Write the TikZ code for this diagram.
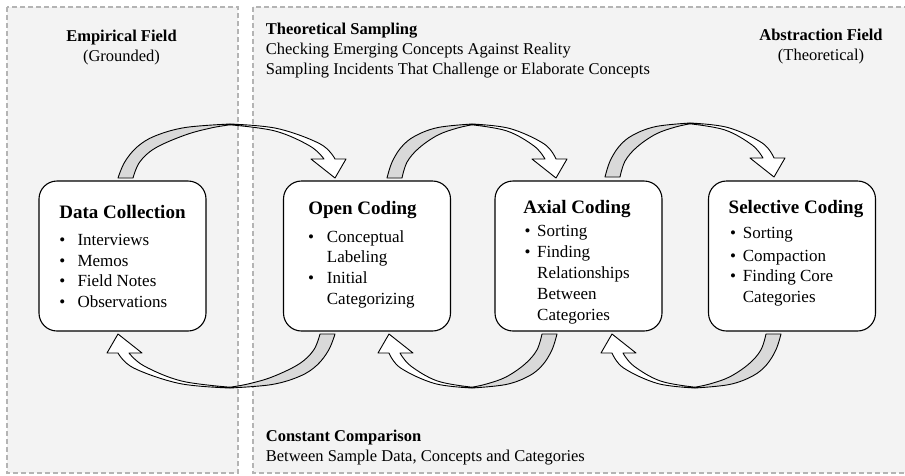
\documentclass[tikz,border=0pt]{standalone}
\usepackage{fontspec}
\setmainfont{Liberation Serif}
\definecolor{panelfill}{HTML}{F3F3F3}
\definecolor{dashc}{HTML}{B4B4B4}
\definecolor{ribbonc}{HTML}{D9D9D9}
\newcommand\ribbonarrow[5]{%
 \begin{scope}[shift={(#1,#2)}, rotate=#3]
  \pgfmathsetmacro\rbp{#4}
  \pgfmathsetmacro\rbd{#5}
  \pgfmathsetmacro\rbq{\rbd+24-\rbp}
  \pgfmathsetmacro\rbr{\rbd+13-\rbp}
  \filldraw[ribbonpart, fill=ribbonc]
   plot[smooth, tension=0.6] coordinates {(0,0) ({0.06*\rbp},-16) ({0.17*\rbp},-31) ({0.33*\rbp},-42) ({0.6*\rbp},-50.5) (\rbp,-54)}
   -- plot[smooth, tension=0.6] coordinates {(\rbp,-53.2) ({0.83*\rbp},-50) ({0.6*\rbp},-43) ({15+0.2*\rbp},-30) ({15+0.06*\rbp},-16) (15,0)} -- cycle;
  \filldraw[ribbonpart, fill=white]
   plot[smooth, tension=0.6] coordinates {(\rbp,-54) ({\rbp+0.45*\rbq},-49.5) ({\rbp+0.86*\rbq},-34) ({\rbd+24},-19)}
   -- ({\rbd+35},-19) -- ({\rbd+24},0) -- (\rbd,-19) -- ({\rbd+13},-19)
   -- plot[smooth, tension=0.6] coordinates {({\rbd+13},-19) ({\rbp+0.85*\rbr},-32) ({\rbp+0.48*\rbr},-47) (\rbp,-53.2)} -- cycle;
 \end{scope}}
\begin{document}
\begin{tikzpicture}[x=1pt,y=-1pt,
  ribbonpart/.style={draw=black, line width=0.9pt, line join=round},
  panel/.style={fill=panelfill, draw=dashc, line width=1.5pt, dash pattern=on 5pt off 3pt},
  box/.style={draw=black, fill=white, line width=1.1pt, rounded corners=18pt, minimum width=167pt, minimum height=150pt, inner sep=0pt},
  ttl/.style={font=\fontsize{19}{23}\selectfont\bfseries, anchor=base, inner sep=0pt},
  itm/.style={font=\fontsize{17}{21}\selectfont, anchor=base west, inner sep=0pt},
  bull/.style={font=\fontsize{17}{21}\selectfont, anchor=base, inner sep=0pt},
  hdb/.style={font=\fontsize{16.5}{20}\selectfont\bfseries, inner sep=0pt},
  hdr/.style={font=\fontsize{16.5}{20}\selectfont, inner sep=0pt}]
\path[clip] (0,0) rectangle (905,475);
\fill[white] (0,0) rectangle (905,475);
% panels
\path[panel] (7,7) rectangle (238,473);
\path[panel] (253,7) rectangle (915,473);
% headers
\node[hdb, anchor=base] (ef) at (121.5,41) {Empirical Field};
\node[hdr, anchor=base] (efs) at (121.5,61) {(Grounded)};
\node[hdb, anchor=base west] (ts) at (265.7,34) {Theoretical Sampling};
\node[hdr, anchor=base west] (ts1) at (265.7,54) {Checking Emerging Concepts Against Reality};
\node[hdr, anchor=base west] (ts2) at (265.7,74) {Sampling Incidents That Challenge or Elaborate Concepts};
\node[hdb, anchor=base] (af) at (821,40.7) {Abstraction Field};
\node[hdr, anchor=base] (afs) at (821,60.7) {(Theoretical)};
\node[hdb, anchor=base west] (cc) at (265.7,441.7) {Constant Comparison};
\node[hdr, anchor=base west] (cc1) at (265.7,461.5) {Between Sample Data, Concepts and Categories};
% boxes
\node[box] (dc) at (122.5,256) {};
\node[box] (oc) at (367,256) {};
\node[box] (ac) at (578.5,256) {};
\node[box] (sc) at (792,256) {};
% Data Collection
\node[ttl] (dct) at (122.5,218) {Data Collection};
\node[bull] (dcb1) at (62.3,245.5) {\textbullet}; \node[itm] (dc1) at (77.3,245.5) {Interviews};
\node[bull] (dcb2) at (62.3,266) {\textbullet}; \node[itm] (dc2) at (77.3,266) {Memos};
\node[bull] (dcb3) at (62.3,286.5) {\textbullet}; \node[itm] (dc3) at (77.3,286.5) {Field Notes};
\node[bull] (dcb4) at (62.3,307) {\textbullet}; \node[itm] (dc4) at (77.3,307) {Observations};
% Open Coding
\node[ttl] (oct) at (362.5,214.5) {Open Coding};
\node[bull] (ocb1) at (311,242) {\textbullet}; \node[itm] (oc1) at (326.7,242) {Conceptual};
\node[itm] (oc2) at (326.7,262.7) {Labeling};
\node[bull] (ocb3) at (311,283.4) {\textbullet}; \node[itm] (oc3) at (326.7,283.4) {Initial};
\node[itm] (oc4) at (326.7,304) {Categorizing};
% Axial Coding
\node[ttl] (act) at (577,213.5) {Axial Coding};
\node[bull] (acb1) at (527.5,236) {\textbullet}; \node[itm] (ac1) at (537,236) {Sorting};
\node[bull] (acb2) at (527.5,257) {\textbullet}; \node[itm] (ac2) at (537,257) {Finding};
\node[itm] (ac3) at (537,278) {Relationships};
\node[itm] (ac4) at (537,299.5) {Between};
\node[itm] (ac5) at (537,320) {Categories};
% Selective Coding
\node[ttl] (sct) at (796,213.5) {Selective Coding};
\node[bull] (scb1) at (733,238) {\textbullet}; \node[itm] (sc1) at (742.7,238) {Sorting};
\node[bull] (scb2) at (733,261) {\textbullet}; \node[itm] (sc2) at (742.7,261) {Compaction};
\node[bull] (scb3) at (733,281.5) {\textbullet}; \node[itm] (sc3) at (742.7,281.5) {Finding Core};
\node[itm] (sc4) at (742.7,302.5) {Categories};
% curved block arrows
\ribbonarrow{118}{178}{0}{112}{193}
\ribbonarrow{387}{178}{0}{85}{145}
\ribbonarrow{605}{177}{0}{85}{145}
\ribbonarrow{335}{334}{180}{105}{193}
\ribbonarrow{557}{334}{180}{85}{144}
\ribbonarrow{781}{334}{180}{86}{145}
\end{tikzpicture}
\end{document}
